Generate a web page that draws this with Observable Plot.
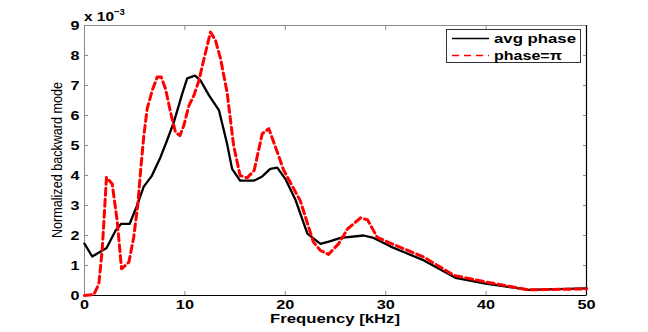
<!DOCTYPE html>
<html><head><meta charset="utf-8">
<script src="https://cdn.jsdelivr.net/npm/d3@7"></script>
<script src="https://cdn.jsdelivr.net/npm/@observablehq/plot@0.6"></script>
<style>html,body{margin:0;padding:0;background:#fff} svg{display:block}</style>
</head><body><div id="chart"></div>
<script>
// avg phase series (x: kHz, y: ×10^-3)
const avgFreq = [0,0.77,2.2,3.1,3.65,4.5,5.2,5.9,6.67,7.57,8.2,8.9,9.73,10.23,11.0,11.55,12.4,13.4,14.2,14.7,15.5,16.9,17.7,18.5,19.2,20.0,21.0,22.2,23.5,24.5,25.5,27.8,28.8,30.5,33.8,36.95,40.1,44.25,50];
const avgMode = [1.73,1.30,1.58,2.17,2.39,2.39,2.97,3.63,3.97,4.61,5.15,5.78,6.72,7.24,7.33,7.17,6.67,6.17,5.06,4.22,3.83,3.83,3.97,4.22,4.26,3.89,3.2,2.06,1.72,1.81,1.92,2.0,1.92,1.63,1.17,0.59,0.39,0.19,0.24];
// phase = pi series
const piFreq = [0,0.93,1.43,1.76,2.19,2.76,3.25,3.69,4.42,4.9,5.3,5.6,5.9,6.24,6.74,7.24,7.64,8.07,8.57,9.06,9.5,9.9,10.4,10.9,11.4,11.9,12.55,13.05,13.55,14.2,14.85,15.5,16.2,16.9,17.7,18.36,18.9,19.85,21.5,22.8,23.5,24.3,25.3,26.2,27.5,28.2,29.15,30.5,33.8,36.8,40.1,44.25,50];
const piMode = [0,0.03,0.39,1.5,3.94,3.72,2.5,0.89,1.11,1.94,3.0,4.2,5.3,6.22,6.83,7.28,7.28,6.89,6.11,5.44,5.33,5.67,6.33,6.67,7.17,7.89,8.78,8.5,7.89,6.78,5.0,4.0,3.92,4.17,5.39,5.56,5.06,4.17,3.15,1.78,1.5,1.37,1.72,2.22,2.59,2.52,1.94,1.74,1.28,0.67,0.44,0.19,0.22];

const xTicks = [0,10,20,30,40,50];
const yTicks = [0,1,2,3,4,5,6,7,8,9];
const seriesNames = ["avg phase","phase=\u03c0"];
const xLabel = "Frequency [kHz]";
const yLabel = "Normalized backward mode";

const avg = avgFreq.map((f,i)=>({f, v: avgMode[i]}));
const pi = piFreq.map((f,i)=>({f, v: piMode[i]}));

const tickGray = "#8a8a8a";
const lblFont = {fontSize: 12.5, fontWeight: "bold"};

const chart = Plot.plot({
  width: 648, height: 332,
  marginLeft: 84, marginRight: 62, marginTop: 25, marginBottom: 37,
  style: {fontFamily: "'Liberation Sans', Arial, sans-serif", background: "#fff", color: "#000"},
  x: {domain: [0, 50]},
  y: {domain: [0, 9]},
  marks: [
    Plot.frame({stroke: tickGray}),
    Plot.axisX({anchor: "bottom", ticks: xTicks, tickSize: -4, tickFormat: () => "", stroke: tickGray, label: null}),
    Plot.axisX({anchor: "top", ticks: xTicks, tickSize: -4, tickFormat: () => "", stroke: tickGray, label: null}),
    Plot.axisY({anchor: "left", ticks: yTicks, tickSize: -4, tickFormat: () => "", stroke: tickGray, label: null}),
    Plot.axisY({anchor: "right", ticks: yTicks, tickSize: -4, tickFormat: () => "", stroke: tickGray, label: null}),
    Plot.axisX({anchor: "bottom", ticks: xTicks, tickSize: 0, tickPadding: 5, label: null, ...lblFont}),
    Plot.axisY({anchor: "left", ticks: yTicks, tickSize: 0, tickPadding: 5, label: null, ...lblFont}),
    Plot.ruleY([0], {stroke: "#000", strokeWidth: 1.2}),
    Plot.ruleX([50], {stroke: "#000", strokeWidth: 1.2}),
    Plot.line(avg, {x: "f", y: "v", stroke: "#000", strokeWidth: 2.3}),
    Plot.line(pi, {x: "f", y: "v", stroke: "#ff0000", strokeWidth: 3, strokeDasharray: "7,4"})
  ]
});
document.getElementById("chart").append(chart);

const svg = d3.select(chart);
// stretch tick labels horizontally (wide bold look)
svg.selectAll('g[aria-label$="tick label"] text').each(function() {
  if (!this.textContent) return;
  const w = this.getComputedTextLength();
  this.setAttribute("textLength", (w * 1.3).toFixed(1));
  this.setAttribute("lengthAdjust", "spacingAndGlyphs");
});

// x label
svg.append("text").attr("x", 335).attr("y", 323).attr("text-anchor", "middle")
  .attr("font-size", 12.5).attr("font-weight", "bold").attr("textLength", 130).attr("lengthAdjust", "spacingAndGlyphs")
  .text(xLabel);
// y label
svg.append("text").attr("transform", "translate(62,160) rotate(-90)").attr("text-anchor", "middle")
  .attr("font-size", 14.5).attr("font-family", "'Liberation Sans Narrow', 'Liberation Sans', Arial, sans-serif")
  .attr("textLength", 156).attr("lengthAdjust", "spacingAndGlyphs")
  .text(yLabel);
// exponent
const ex = svg.append("text").attr("x", 84).attr("y", 21).attr("text-anchor", "start")
  .attr("font-size", 12.5).attr("font-weight", "bold");
ex.append("tspan").text("x 10").attr("textLength", 30).attr("lengthAdjust", "spacingAndGlyphs");
ex.append("tspan").attr("dy", -6).attr("font-size", 9.5).text("\u22123");

// legend
const lg = svg.append("g").attr("text-anchor", "start");
lg.append("rect").attr("x", 446.5).attr("y", 29.5).attr("width", 134).attr("height", 33)
  .attr("fill", "#ffffff").attr("stroke", "#333333").attr("stroke-width", 1);
lg.append("line").attr("x1", 452).attr("x2", 489).attr("y1", 38.5).attr("y2", 38.5)
  .attr("stroke", "#000").attr("stroke-width", 1.5);
lg.append("line").attr("x1", 452).attr("x2", 489).attr("y1", 55.5).attr("y2", 55.5)
  .attr("stroke", "#ff0000").attr("stroke-width", 1.5).attr("stroke-dasharray", "7,5");
lg.append("text").attr("x", 494).attr("y", 43).attr("font-size", 12.5).attr("font-weight", "bold")
  .attr("textLength", 82).attr("lengthAdjust", "spacingAndGlyphs").text(seriesNames[0]);
lg.append("text").attr("x", 494).attr("y", 59.5).attr("font-size", 12.5).attr("font-weight", "bold")
  .attr("textLength", 68).attr("lengthAdjust", "spacingAndGlyphs").text(seriesNames[1]);
</script>
</body></html>
